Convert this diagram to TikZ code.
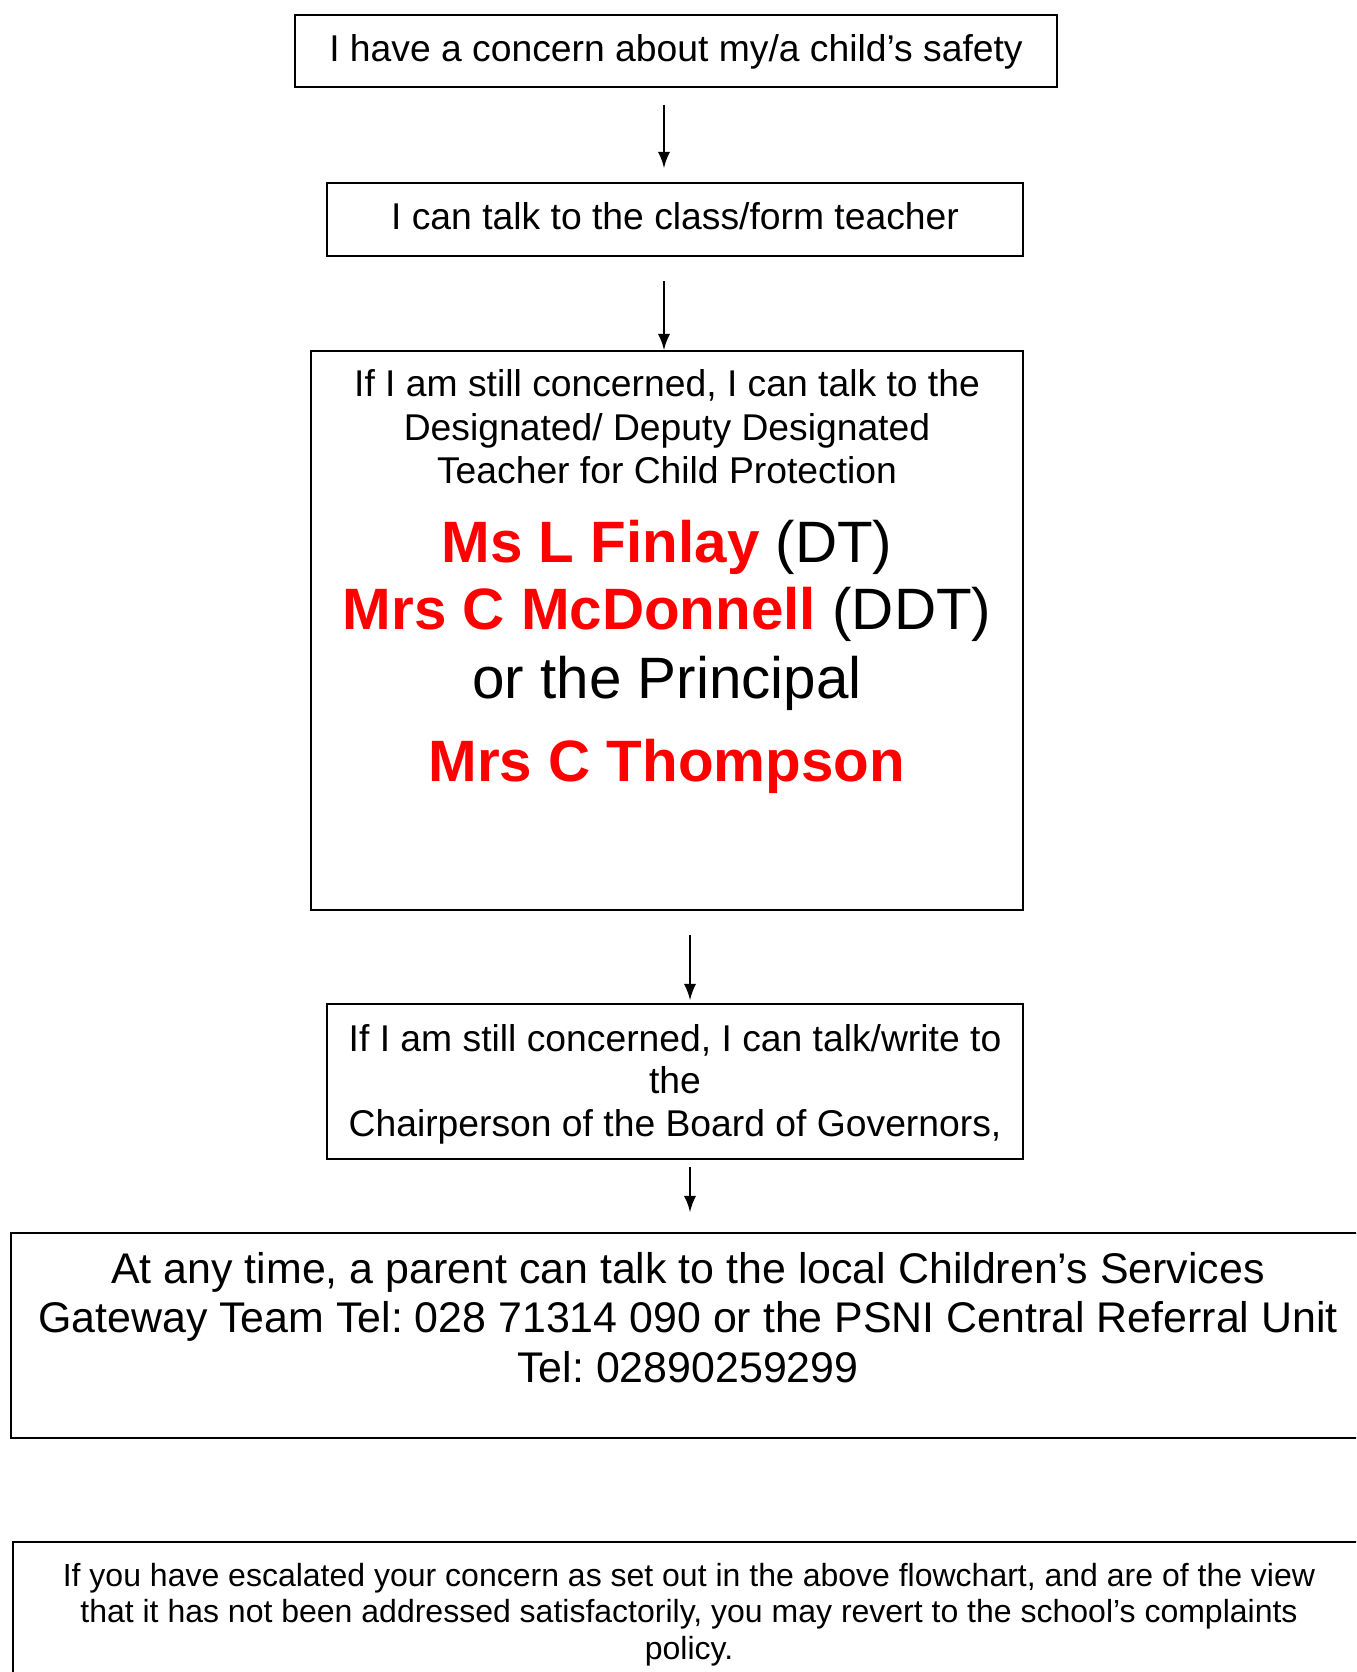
\documentclass[tikz,border=0pt]{standalone}
\usepackage{fontspec}
\setmainfont{Liberation Sans}
\usepackage{xcolor}

\newcommand{\namered}[1]{\textcolor{red}{\bfseries #1}}
\frenchspacing

\begin{document}
\begin{tikzpicture}[x = .01cm, y = -.01cm,
    box/.style = {draw, line width=.55pt, inner sep=0pt, anchor=north, align=flush center},
    flow/.style = {line width=.6pt, -latex}]
  \useasboundingbox (0, 0) rectangle (1356, 1672);
  \clip (0, 0) rectangle (1356, 1672);
  % the steps
  \node[box, minimum width=7.62cm, text height=.46cm, text depth=.26cm,
        font=\fontsize{10.6}{12.4}\selectfont] (concern) at (676, 14)
        {I have a concern about my/a child’s safety};
  \node[box, minimum width=6.96cm, text height=.46cm, text depth=.27cm,
        font=\fontsize{10.6}{12.4}\selectfont] (teacher) at (675, 182)
        {I can talk to the class/form teacher};
  \node[box, text width=6.9cm, minimum width=7.12cm, text height=.455cm, text depth=5.135cm] (designated) at (667, 350) {%
    \fontsize{10.6}{12.4}\selectfont If I am still concerned, I can talk to the\\ Designated/ Deputy Designated\\ Teacher for Child Protection\par
    \fontsize{16.6}{22.5}\selectfont \namered{Ms L Finlay} (DT)\par
    \fontsize{16.6}{19}\selectfont \namered{Mrs C McDonnell} (DDT)\par
    \fontsize{16.6}{19.5}\selectfont or the Principal\par
    \fontsize{16.6}{23.6}\selectfont \namered{Mrs C Thompson}\par};
  \node[box, text width=6.8cm, minimum width=6.96cm, text height=.47cm, text depth=1.08cm,
        font=\fontsize{10.6}{12.2}\selectfont] (chair) at (675, 1003)
        {If I am still concerned, I can talk/write to\\ the\\ Chairperson of the Board of Governors,};
  \node[box, text width=13.4cm, minimum width=13.53cm, text height=.50cm, text depth=1.55cm,
        font=\fontsize{12.2}{14.2}\selectfont] (parent) at (688, 1232)
        {At any time, a parent can talk to the local Children’s Services\\ Gateway Team Tel: 028 71314 090 or the PSNI Central Referral Unit\\ Tel: 02890259299};
  \node[box, text width=13.3cm, minimum width=13.52cm, text height=.44cm, text depth=1.15cm,
        font=\fontsize{9.1}{10.5}\selectfont] (policy) at (689, 1541)
        {If you have escalated your concern as set out in the above flowchart, and are of the view\\ that it has not been addressed satisfactorily, you may revert to the school’s complaints\\ policy.};
  % arrows
  \draw[flow, shorten <=.17cm, shorten >=.14cm] ([xshift=-.12cm]concern.south) -- ([xshift=-.12cm]concern.south |- teacher.north);
  \draw[flow, shorten <=.24cm] ([xshift=-.11cm]teacher.south) -- ([xshift=-.11cm]teacher.south |- designated.north);
  \draw[flow, shorten <=.235cm, shorten >=.03cm] ([xshift=.23cm]designated.south) -- ([xshift=.23cm]designated.south |- chair.north);
  \draw[flow, shorten <=.07cm, shorten >=.20cm] ([xshift=.15cm]chair.south) -- ([xshift=.15cm]chair.south |- parent.north);
\end{tikzpicture}
\end{document}
